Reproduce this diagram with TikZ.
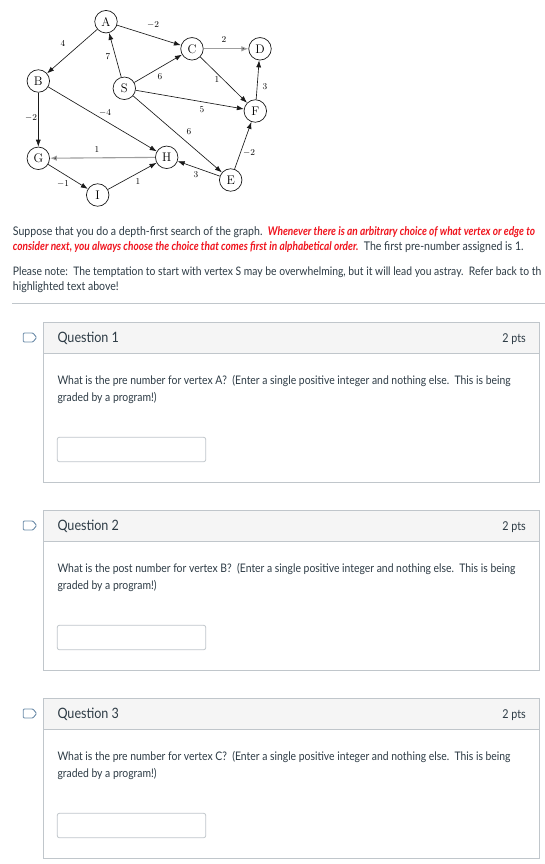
\documentclass[tikz,border=0pt]{standalone}
\usepackage{fontspec}
\usetikzlibrary{arrows.meta}
\newfontfamily\lato{Lato}[FakeStretch=0.88]
\newfontfamily\latohl{Lato}[FakeStretch=0.84]
\definecolor{txt}{HTML}{2D3B45}
\definecolor{hl}{HTML}{F0141E}
\definecolor{bd}{HTML}{C0C6CB}
\definecolor{hdr}{HTML}{F5F5F5}
\definecolor{iconc}{HTML}{6B8BA8}
\definecolor{edgec}{HTML}{1A1A1A}
\begin{document}
\begin{tikzpicture}[x=1pt,y=-1pt,
  vtx/.style={circle,draw=edgec,line width=0.7pt,minimum size=22.5pt,inner sep=0pt,font=\fontsize{12.5}{12.5}\selectfont},
  arr/.style={-{Latex[length=7pt,width=5pt]},line width=0.65pt,draw=edgec},
  harr/.style={arr,draw=gray!75,line width=1.1pt,-{Latex[length=7pt,width=5.5pt,fill=edgec]}},
  lab/.style={font=\fontsize{9}{9}\selectfont,inner sep=0pt},
  para/.style={anchor=base west,inner sep=0pt,text=txt,font=\lato\fontsize{12}{15}\selectfont},
  qtext/.style={anchor=base west,inner sep=0pt,text=txt,font=\lato\fontsize{11.8}{14}\selectfont},
  qtitle/.style={anchor=base west,inner sep=0pt,text=txt,font=\lato\fontsize{14.3}{16}\selectfont},
  pts/.style={anchor=base east,inner sep=0pt,text=txt,font=\lato\fontsize{12.2}{14}\selectfont},
  boxline/.style={draw=bd,line width=0.9pt},
]
\useasboundingbox (0,0) rectangle (545,864);
\clip (0,0) rectangle (545,864);
\fill[white] (0,0) rectangle (545,864);

% ---------- graph ----------
\node[vtx] (A) at (106,21.7) {A};
\node[vtx] (C) at (192,48.8) {C};
\node[vtx] (D) at (260,48.8) {D};
\node[vtx] (B) at (38.3,81) {B};
\node[vtx] (S) at (124.3,88.3) {S};
\node[vtx] (F) at (255.3,111) {F};
\node[vtx] (G) at (38.3,158.3) {G};
\node[vtx] (H) at (166.7,157.3) {H};
\node[vtx] (E) at (230.7,180) {E};
\node[vtx] (I) at (97.7,195) {I};

\draw[arr] (A) -- (C);
\draw[arr] (A) -- (B);
\draw[arr] (S) -- (A);
\draw[harr] (C) -- (D);
\draw[arr] (S) -- (C);
\draw[arr] (C) -- (F);
\draw[arr] (F) -- (D);
\draw[arr] (S) -- (F);
\draw[arr] (B) -- (G);
\draw[arr] (B) -- (H);
\draw[arr] (S) -- (E);
\draw[harr] (H) -- (G);
\draw[arr] (E) -- (F);
\draw[arr] (E) -- (H);
\draw[arr] (G) -- (I);
\draw[arr] (I) -- (H);

\node[lab] (lAC) at (153,25) {$-2$};
\node[lab] (lAB) at (63,43) {4};
\node[lab] (lSA) at (108,57) {7};
\node[lab] (lCD) at (224,40) {2};
\node[lab] (lSC) at (160,77) {6};
\node[lab] (lCF) at (217,80) {1};
\node[lab] (lFD) at (265,87) {3};
\node[lab] (lBG) at (31,118) {$-2$};
\node[lab] (lBH) at (105,113) {$-4$};
\node[lab] (lSF) at (202,110) {5};
\node[lab] (lSE) at (189,132) {6};
\node[lab] (lHG) at (97,150) {1};
\node[lab] (lEF) at (249,153) {$-2$};
\node[lab] (lEH) at (196,175) {3};
\node[lab] (lGI) at (63,184) {$-1$};
\node[lab] (lIH) at (138,182) {1};

% ---------- intro text ----------
\node[para] (t1) at (12.7,235.3) {Suppose that you do a depth-first search of the graph.\ \ {\latohl\color{hl}\bfseries\itshape Whenever there is an arbitrary choice of what vertex or edge to}};
\node[para] (t2) at (12.7,250.3) {{\latohl\color{hl}\bfseries\itshape consider next, you always choose the choice that comes first in alphabetical order.}\ \ The first pre-number assigned is 1.};
\node[para,font=\lato\fontsize{11.75}{15}\selectfont] (t3) at (12.7,275) {Please note:\ \ The temptation to start with vertex S may be overwhelming, but it will lead you astray.\ \ Refer back to th};
\node[para] (t4) at (12.7,290) {highlighted text above!};
\draw[boxline] (12,303.3) -- (545,303.3);

% ---------- questions ----------
\foreach \n/\y/\q in {1/322.7/{pre number for vertex A?}, 2/510.7/{post number for vertex B?}, 3/698.7/{pre number for vertex C?}}{
  \fill[hdr] (43.3,\y) rectangle (539.3,{\y+30.6});
  \draw[boxline] (43.3,\y) rectangle (539.3,{\y+159.6});
  \draw[boxline] (43.3,{\y+30.6}) -- (539.3,{\y+30.6});
  \draw[iconc,line width=0.9pt,rounded corners=1pt] (23.2,{\y+10.3}) -- (33,{\y+10.3}) -- (36.6,{\y+14.8}) -- (33,{\y+19.3}) -- (23.2,{\y+19.3}) -- cycle;
  \node[qtitle] (qt\n) at (57.3,{\y+20}) {Question \n};
  \node[pts] (qp\n) at (526,{\y+20}) {2 pts};
  \node[qtext] (qa\n) at (57.3,{\y+61.6}) {What is the \q\ \ (Enter a single positive integer and nothing else.\ \ This is being};
  \node[qtext] (qb\n) at (57.3,{\y+79}) {graded by a program!)};
  \draw[bd,line width=0.8pt,fill=white,rounded corners=2pt] (57.3,{\y+114.6}) rectangle (205.7,{\y+139});
}
\end{tikzpicture}
\end{document}
